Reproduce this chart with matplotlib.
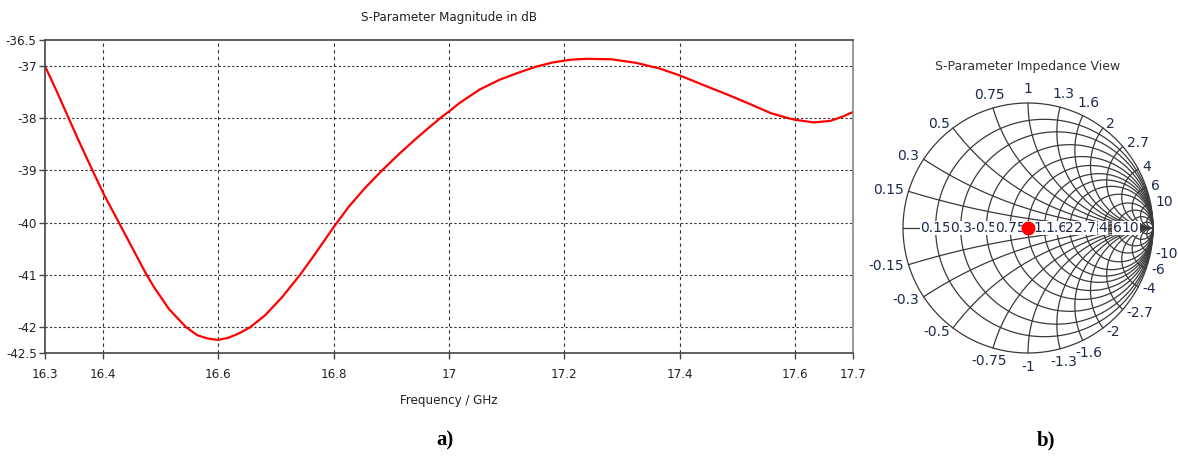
import numpy as np
import matplotlib.pyplot as plt

# S11 magnitude
freq = [16.300, 16.321, 16.341, 16.358, 16.381, 16.402, 16.428, 16.451, 16.474, 16.489,
        16.515, 16.544, 16.564, 16.581, 16.600, 16.617, 16.635, 16.655, 16.681, 16.710,
        16.742, 16.768, 16.800, 16.826, 16.855, 16.884, 16.913, 16.942, 16.965, 16.988,
        17.000, 17.018, 17.053, 17.088, 17.122, 17.151, 17.180, 17.209, 17.238, 17.282,
        17.325, 17.366, 17.400, 17.440, 17.481, 17.522, 17.557, 17.585, 17.600, 17.632,
        17.661, 17.684, 17.700]
s11_db = [-37.00, -37.50, -38.00, -38.42, -38.97, -39.46, -40.00, -40.48, -40.96, -41.24,
          -41.66, -42.00, -42.16, -42.22, -42.25, -42.21, -42.13, -42.01, -41.78, -41.44,
          -41.00, -40.60, -40.09, -39.70, -39.33, -39.00, -38.69, -38.40, -38.18, -37.97,
          -37.87, -37.71, -37.45, -37.26, -37.12, -37.01, -36.93, -36.88, -36.86, -36.87,
          -36.94, -37.05, -37.18, -37.36, -37.54, -37.73, -37.90, -37.99, -38.03, -38.08,
          -38.05, -37.96, -37.88]

xticks = [16.3, 16.4, 16.6, 16.8, 17.0, 17.2, 17.4, 17.6, 17.7]
xtick_labels = ['16.3', '16.4', '16.6', '16.8', '17', '17.2', '17.4', '17.6', '17.7']
yticks = [-36.5, -37, -38, -39, -40, -41, -42, -42.5]
ytick_labels = ['-36.5', '-37', '-38', '-39', '-40', '-41', '-42', '-42.5']

# Smith chart grid values
smith_vals = [0.15, 0.3, 0.5, 0.75, 1, 1.3, 1.6, 2, 2.7, 4, 6, 10]
smith_labels = ['0.15', '0.3', '0.5', '0.75', '1', '1.3', '1.6', '2', '2.7', '4', '6', '10']
smith_extra = [20]
marker_z = 1.0 + 0.0j

fnt = dict(family='DejaVu Sans', stretch='condensed', fontsize=9.5, color='#222222')
navy = '#1c2a4c'

fig = plt.figure(figsize=(11.78, 4.58), dpi=100)

# ---- a) magnitude plot ----
ax = fig.add_axes([45 / 1178, 1 - 353 / 458, 808 / 1178, 313 / 458])
ax.plot(freq, s11_db, color='red', lw=1.6)
ax.set_xlim(16.3, 17.7)
ax.set_ylim(-42.5, -36.5)
ax.set_xticks(xticks)
ax.set_xticklabels(xtick_labels, **fnt)
ax.set_yticks(yticks)
ax.set_yticklabels(ytick_labels, **fnt)
ax.tick_params(axis='x', direction='out', length=4, width=1, color='#444444', pad=7)
ax.tick_params(axis='y', direction='out', length=4, width=1, color='#444444', pad=2)
for y in yticks[1:-1]:
    ax.axhline(y, color='#333333', lw=0.8, ls=(0, (2, 2)), zorder=0)
for x in xticks[1:-1]:
    ax.axvline(x, color='#333333', lw=0.8, ls=(0, (3, 3)), zorder=0)
for s in ['left', 'bottom', 'top']:
    ax.spines[s].set_color('#444444')
    ax.spines[s].set_linewidth(1.2)
ax.spines['right'].set_color('#888888')
ax.spines['right'].set_linewidth(1.2)
ax.set_title('S-Parameter Magnitude in dB', pad=14, **fnt)
ax.set_xlabel('Frequency / GHz', labelpad=9, **fnt)

# ---- b) Smith chart ----
sax = fig.add_axes([(1028 - 150) / 1178, 1 - (228 + 150) / 458, 300 / 1178, 300 / 458])
sax.set_xlim(-1.2, 1.2)
sax.set_ylim(-1.2, 1.2)
sax.axis('off')

t = np.tan(np.linspace(-np.pi / 2 + 1e-3, np.pi / 2 - 1e-3, 800))
rr = np.tan(np.linspace(0, np.pi / 2 - 1e-3, 800))
line_kw = dict(color='#3a3a3a', lw=0.9)

th = np.linspace(0, 2 * np.pi, 400)
sax.plot(np.cos(th), np.sin(th), **line_kw)
sax.plot([-1, 1], [0, 0], **line_kw)
for r in smith_vals + smith_extra:
    g = (r + 1j * t - 1) / (r + 1j * t + 1)
    sax.plot(g.real, g.imag, **line_kw)
for x in smith_vals + smith_extra:
    for sx in (x, -x):
        g = (rr + 1j * sx - 1) / (rr + 1j * sx + 1)
        sax.plot(g.real, g.imag, **line_kw)

# reactance labels round the edge
for x, lab in zip(smith_vals, smith_labels):
    for sx, txt in ((x, lab), (-x, '-' + lab)):
        g = (1j * sx - 1) / (1j * sx + 1)
        ang = np.angle(g)
        c = np.cos(ang)
        ha = 'left' if c > 0.45 else ('right' if c < -0.45 else 'center')
        rad = 1.04 if ha != 'center' else 1.11
        sax.text(rad * np.cos(ang), rad * np.sin(ang), txt, fontsize=10,
                 color=navy, ha=ha, va='center')

# resistance labels on the real axis, later ones drawn over earlier ones
for i, (r, lab) in enumerate(zip(smith_vals, smith_labels)):
    g = (r - 1) / (r + 1)
    sax.text(g, 0, lab, fontsize=10, color=navy, ha='center', va='center',
             zorder=3 + i * 0.01, bbox=dict(fc='white', ec='none', pad=0.3))

gm = (marker_z - 1) / (marker_z + 1)
sax.plot(gm.real, gm.imag, 'o', color='red', ms=9, zorder=5)
sax.text(0, 1.29, 'S-Parameter Impedance View', fontsize=9, color='#333333',
         ha='center', va='center')

fig.text(445 / 1178, 1 - 440 / 458, 'a)', family='Liberation Serif', weight='bold',
         fontsize=15, ha='center', va='center')
fig.text(1046 / 1178, 1 - 440 / 458, 'b)', family='Liberation Serif', weight='bold',
         fontsize=15, ha='center', va='center')

fig.savefig('out.png', dpi=100)
